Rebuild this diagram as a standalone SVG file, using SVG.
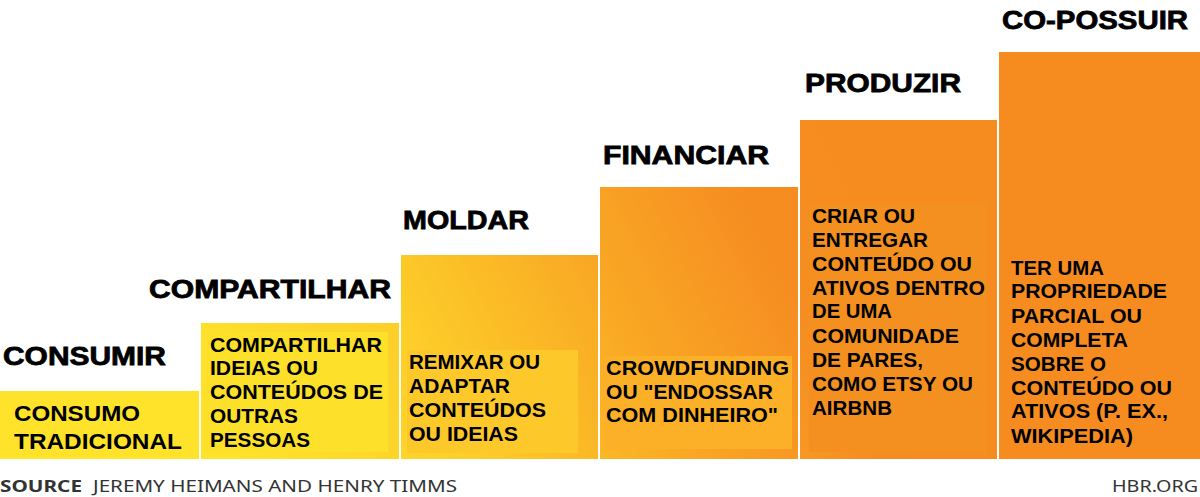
<svg xmlns="http://www.w3.org/2000/svg" width="1200" height="497" viewBox="0 0 1200 497">
<defs>
<linearGradient id="g" gradientUnits="userSpaceOnUse" x1="250" y1="480" x2="850" y2="180">
<stop offset="0" stop-color="#fee32a"/>
<stop offset="0.3" stop-color="#fdcf29"/>
<stop offset="0.6" stop-color="#f9a824"/>
<stop offset="0.85" stop-color="#f68d21"/>
<stop offset="1" stop-color="#f68c20"/>
</linearGradient>
<style>
.bar{fill:url(#g)}
.h{font-family:"Liberation Sans",Arial,sans-serif;font-weight:bold;font-size:26px;fill:#000;stroke:#000;stroke-width:0.8}
.t{font-family:"Liberation Sans",Arial,sans-serif;font-weight:bold;font-size:19.5px;fill:#000}
.t1{font-family:"Liberation Sans",Arial,sans-serif;font-weight:bold;font-size:22px;fill:#000}
.f{font-family:"Noto Sans","Liberation Sans",sans-serif;font-size:16px;fill:#333}
</style>
</defs>
<rect width="1200" height="497" fill="#fff"/>
<g id="consumir">
<rect class="bar" x="0" y="391" width="199" height="68"/>
<text class="h" x="3" y="365" textLength="163" lengthAdjust="spacingAndGlyphs">CONSUMIR</text>
<text class="t1" x="14" y="421" textLength="126" lengthAdjust="spacingAndGlyphs">CONSUMO</text>
<text class="t1" x="14" y="449" textLength="168" lengthAdjust="spacingAndGlyphs">TRADICIONAL</text>
</g>
<g id="compartilhar">
<rect class="bar" x="201" y="323" width="198" height="136"/>
<rect x="205" y="332" width="183" height="120" fill="#fde02a"/>
<text class="h" x="149" y="298" textLength="242" lengthAdjust="spacingAndGlyphs">COMPARTILHAR</text>
<text class="t" x="210" y="352" textLength="172" lengthAdjust="spacingAndGlyphs">COMPARTILHAR</text>
<text class="t" x="210" y="375" textLength="108" lengthAdjust="spacingAndGlyphs">IDEIAS OU</text>
<text class="t" x="210" y="399" textLength="173" lengthAdjust="spacingAndGlyphs">CONTEÚDOS DE</text>
<text class="t" x="210" y="423" textLength="88" lengthAdjust="spacingAndGlyphs">OUTRAS</text>
<text class="t" x="210" y="447" textLength="100" lengthAdjust="spacingAndGlyphs">PESSOAS</text>
</g>
<g id="moldar">
<rect class="bar" x="401" y="255" width="197" height="204"/>
<rect x="407" y="350" width="171" height="103" fill="#fdc82a"/>
<text class="h" x="403" y="229" textLength="126" lengthAdjust="spacingAndGlyphs">MOLDAR</text>
<text class="t" x="409" y="369" textLength="131" lengthAdjust="spacingAndGlyphs">REMIXAR OU</text>
<text class="t" x="409" y="393" textLength="101" lengthAdjust="spacingAndGlyphs">ADAPTAR</text>
<text class="t" x="409" y="417" textLength="137" lengthAdjust="spacingAndGlyphs">CONTEÚDOS</text>
<text class="t" x="409" y="441" textLength="109" lengthAdjust="spacingAndGlyphs">OU IDEIAS</text>
</g>
<g id="financiar">
<rect class="bar" x="600" y="187" width="198" height="272"/>
<rect x="604" y="356" width="188" height="93" fill="#fbb027"/>
<text class="h" x="603" y="164" textLength="166" lengthAdjust="spacingAndGlyphs">FINANCIAR</text>
<text class="t" x="606" y="375" textLength="183" lengthAdjust="spacingAndGlyphs">CROWDFUNDING</text>
<text class="t" x="606" y="399" textLength="167" lengthAdjust="spacingAndGlyphs">OU "ENDOSSAR</text>
<text class="t" x="606" y="422" textLength="172" lengthAdjust="spacingAndGlyphs">COM DINHEIRO"</text>
</g>
<g id="produzir">
<rect class="bar" x="800" y="120" width="197" height="339"/>
<rect x="809" y="204" width="177" height="248" fill="#f3901f"/>
<text class="h" x="805" y="92" textLength="156" lengthAdjust="spacingAndGlyphs">PRODUZIR</text>
<text class="t" x="812" y="223" textLength="103" lengthAdjust="spacingAndGlyphs">CRIAR OU</text>
<text class="t" x="812" y="247" textLength="116" lengthAdjust="spacingAndGlyphs">ENTREGAR</text>
<text class="t" x="812" y="271" textLength="160" lengthAdjust="spacingAndGlyphs">CONTEÚDO OU</text>
<text class="t" x="812" y="295" textLength="173" lengthAdjust="spacingAndGlyphs">ATIVOS DENTRO</text>
<text class="t" x="812" y="318" textLength="80" lengthAdjust="spacingAndGlyphs">DE UMA</text>
<text class="t" x="812" y="343" textLength="147" lengthAdjust="spacingAndGlyphs">COMUNIDADE</text>
<text class="t" x="812" y="367" textLength="111" lengthAdjust="spacingAndGlyphs">DE PARES,</text>
<text class="t" x="812" y="391" textLength="161" lengthAdjust="spacingAndGlyphs">COMO ETSY OU</text>
<text class="t" x="812" y="415" textLength="80" lengthAdjust="spacingAndGlyphs">AIRBNB</text>
</g>
<g id="copossuir">
<rect class="bar" x="999" y="52" width="201" height="407"/>
<rect x="1009" y="256" width="175" height="195" fill="#f68c20"/>
<text class="h" x="1002" y="29" textLength="186" lengthAdjust="spacingAndGlyphs">CO-POSSUIR</text>
<text class="t" x="1011" y="275" textLength="93" lengthAdjust="spacingAndGlyphs">TER UMA</text>
<text class="t" x="1011" y="298" textLength="156" lengthAdjust="spacingAndGlyphs">PROPRIEDADE</text>
<text class="t" x="1011" y="323" textLength="131" lengthAdjust="spacingAndGlyphs">PARCIAL OU</text>
<text class="t" x="1011" y="347" textLength="117" lengthAdjust="spacingAndGlyphs">COMPLETA</text>
<text class="t" x="1011" y="371" textLength="95" lengthAdjust="spacingAndGlyphs">SOBRE O</text>
<text class="t" x="1011" y="395" textLength="161" lengthAdjust="spacingAndGlyphs">CONTEÚDO OU</text>
<text class="t" x="1011" y="418" textLength="157" lengthAdjust="spacingAndGlyphs">ATIVOS (P. EX.,</text>
<text class="t" x="1011" y="443" textLength="122" lengthAdjust="spacingAndGlyphs">WIKIPEDIA)</text>
</g>
<g id="connectors"/>
<g id="footer">
<text class="f" x="0" y="492" font-weight="bold" textLength="82" lengthAdjust="spacingAndGlyphs">SOURCE</text>
<text class="f" x="93" y="492" textLength="364" lengthAdjust="spacingAndGlyphs">JEREMY HEIMANS AND HENRY TIMMS</text>
<text class="f" x="1112" y="492" textLength="86" lengthAdjust="spacingAndGlyphs">HBR.ORG</text>
</g>
</svg>
